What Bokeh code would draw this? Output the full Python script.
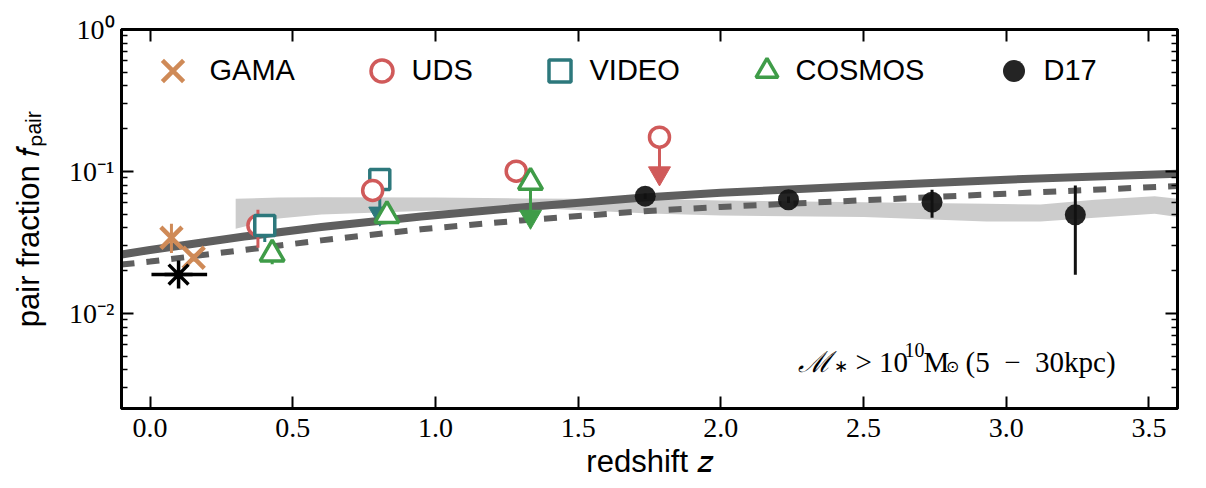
from bokeh.embed import file_html
from bokeh.models import (CustomJSTickFormatter, FixedTicker, Label, Legend,
                          LegendItem, LinearAxis, LogAxis, PrintfTickFormatter,
                          Range1d)
from bokeh.plotting import figure
from bokeh.resources import INLINE

# ---------------------------------------------------------------- data ----
# GAMA close pairs
gama_z = [0.075, 0.153]
gama_f = [0.0341, 0.0247]
gama_f_lo = [0.0266, 0.0232]
gama_f_hi = [0.0428, 0.0263]

# local reference point (redshift bin shown as a horizontal bar)
local_z = [0.10]
local_f = [0.0188]
local_z_lo = [0.005]
local_z_hi = [0.200]

# UDS detections and upper limit
uds_z = [0.378, 0.780, 1.283]
uds_f = [0.0417, 0.0735, 0.1005]
uds_f_lo = [0.0290, 0.0700, 0.0960]
uds_f_hi = [0.0537, 0.0770, 0.1050]
uds_lim_z = [1.785]
uds_lim_f = [0.1744]
uds_lim_head = [0.0972]

# VIDEO detections and upper limit
video_z = [0.402]
video_f = [0.0417]
video_f_lo = [0.0318]
video_f_hi = [0.0500]
video_lim_z = [0.805]
video_lim_f = [0.0879]
video_lim_head = [0.0506]

# COSMOS detections and upper limit
cosmos_z = [0.428, 0.830]
cosmos_f = [0.0262, 0.0490]
cosmos_f_lo = [0.0222, 0.0460]
cosmos_f_hi = [0.0300, 0.0520]
cosmos_lim_z = [1.333]
cosmos_lim_f = [0.0840]
cosmos_lim_head = [0.0481]

# D17
d17_z = [1.735, 2.237, 2.740, 3.242]
d17_f = [0.0670, 0.0632, 0.0608, 0.0495]
d17_f_lo = [0.0640, 0.0600, 0.0472, 0.0187]
d17_f_hi = [0.0700, 0.0665, 0.0743, 0.0797]

# model curves
model_z = [-0.10, 0.00, 0.33, 0.60, 0.95, 1.30, 1.73, 2.00, 2.50, 3.00, 3.60]
model_solid = [0.0260, 0.0280, 0.0348, 0.0406, 0.0481, 0.0558, 0.0656,
               0.0708, 0.0791, 0.0875, 0.0964]
model_dashed = [0.0221, 0.0232, 0.0280, 0.0327, 0.0392, 0.0452, 0.0525,
                0.0563, 0.0627, 0.0697, 0.0790]

# simulation range (shaded band)
band_z = [0.30, 0.45, 0.60, 1.00, 1.30, 1.75, 2.00, 2.50, 2.93, 3.12, 3.31, 3.52, 3.60]
band_hi = [0.0642, 0.0656, 0.0659, 0.0656, 0.0645, 0.0640, 0.0625, 0.0608,
           0.0592, 0.0586, 0.0632, 0.0670, 0.0642]
band_lo = [0.0395, 0.0467, 0.0498, 0.0531, 0.0557, 0.0506, 0.0490, 0.0477,
           0.0445, 0.0445, 0.0472, 0.0503, 0.0477]

# axes
x_ticks = [0.0, 0.5, 1.0, 1.5, 2.0, 2.5, 3.0, 3.5]
y_ticks = [0.01, 0.1, 1.0]
y_minor = [m * 10.0 ** e for e in (-3, -2, -1) for m in range(2, 10)]

# ---------------------------------------------------------------- style ----
C_GAMA = "#cf8a57"
C_UDS = "#d05a5a"
C_VIDEO = "#2d787c"
C_COSMOS = "#3f9c48"
C_D17 = "#111111"
C_MODEL = "#5f5f5f"
C_BAND = "#cccccc"

SANS = "Liberation Sans"
SERIF = "Liberation Serif"

FIG_W, FIG_H = 1206, 488
FRAME_L, FRAME_R, FRAME_T, FRAME_B = 121, 1177, 29, 408

p = figure(width=FIG_W, height=FIG_H,
           x_range=Range1d(-0.1, 3.6), y_range=Range1d(0.00214, 1.0),
           y_axis_type="log", output_backend="svg", toolbar_location=None,
           min_border_left=FRAME_L, min_border_right=FIG_W - FRAME_R,
           min_border_top=FRAME_T, min_border_bottom=FIG_H - FRAME_B)
p.xgrid.visible = False
p.ygrid.visible = False
p.outline_line_color = "black"
p.outline_line_width = 3
p.background_fill_color = "white"
p.border_fill_color = "white"


def style_axis(ax):
    ax.axis_line_color = "black"
    ax.axis_line_width = 3
    ax.major_tick_in = 12
    ax.major_tick_out = 0
    ax.minor_tick_in = 6
    ax.minor_tick_out = 0
    ax.major_tick_line_width = 2
    ax.minor_tick_line_width = 1.5
    ax.major_label_text_font = SERIF
    ax.major_label_text_font_size = "28px"
    ax.major_label_text_color = "black"
    ax.axis_label_text_font = SANS
    ax.axis_label_text_font_style = "normal"
    ax.axis_label_text_font_size = "31px"
    ax.axis_label_text_color = "black"


blank = CustomJSTickFormatter(code="return '';")
pow10 = CustomJSTickFormatter(code="""
const sup = {"-": "\u207b", "0": "\u2070", "1": "\u00b9", "2": "\u00b2", "3": "\u00b3"};
const e = Math.round(Math.log10(tick));
return "10" + String(e).split("").map((c) => sup[c]).join("");
""")

xa = p.xaxis[0]
style_axis(xa)
xa.ticker = FixedTicker(ticks=x_ticks, minor_ticks=[])
xa.formatter = PrintfTickFormatter(format="%.1f")
xa.major_label_standoff = 10
xa.axis_label = "redshift \U0001D467"
xa.axis_label_standoff = 4

ya = p.yaxis[0]
style_axis(ya)
ya.ticker = FixedTicker(ticks=y_ticks, minor_ticks=y_minor)
ya.formatter = pow10
ya.major_label_standoff = 7
ya.axis_label = "pair fraction \U0001D453\u209a\u2090\u1d62\u1d63"
ya.axis_label_standoff = 20

top = LinearAxis(ticker=FixedTicker(ticks=x_ticks, minor_ticks=[]), formatter=blank)
style_axis(top)
top.major_label_standoff = 0
top.major_label_text_font_size = "1px"
p.add_layout(top, "above")

right = LogAxis(ticker=FixedTicker(ticks=y_ticks, minor_ticks=y_minor), formatter=blank)
style_axis(right)
right.major_label_standoff = 0
right.major_label_text_font_size = "1px"
p.add_layout(right, "right")

# ---------------------------------------------------------------- marks ----
p.varea(x=band_z, y1=band_lo, y2=band_hi, fill_color=C_BAND)
p.line(model_z, model_dashed, line_color=C_MODEL, line_width=6, line_dash="13 12")
p.line(model_z, model_solid, line_color=C_MODEL, line_width=8)

ERR_W = 3
MK_W = 3.5


def vbars(z, lo, hi, color):
    p.segment(x0=z, y0=lo, x1=z, y1=hi, line_color=color, line_width=ERR_W)


def limit_arrows(z, f, head, color):
    p.segment(x0=z, y0=f, x1=z, y1=head, line_color=color, line_width=ERR_W)
    p.scatter(z, head, marker="inverted_triangle", size=22,
              fill_color=color, line_color=color, line_width=1)


# VIDEO upper limit
limit_arrows(video_lim_z, video_lim_f, video_lim_head, C_VIDEO)
p.scatter(video_lim_z, video_lim_f, marker="square", size=20,
          fill_color="white", line_color=C_VIDEO, line_width=MK_W)

# UDS
vbars(uds_z, uds_f_lo, uds_f_hi, C_UDS)
uds_r = p.scatter(uds_z, uds_f, marker="circle", size=20,
                  fill_color="white", line_color=C_UDS, line_width=MK_W)
limit_arrows(uds_lim_z, uds_lim_f, uds_lim_head, C_UDS)
p.scatter(uds_lim_z, uds_lim_f, marker="circle", size=20,
          fill_color="white", line_color=C_UDS, line_width=MK_W)

# VIDEO detections
vbars(video_z, video_f_lo, video_f_hi, C_VIDEO)
video_r = p.scatter(video_z, video_f, marker="square", size=20,
                    fill_color="white", line_color=C_VIDEO, line_width=MK_W)

# COSMOS
vbars(cosmos_z, cosmos_f_lo, cosmos_f_hi, C_COSMOS)
cosmos_r = p.scatter(cosmos_z, cosmos_f, marker="triangle", size=24,
                     fill_color="white", line_color=C_COSMOS, line_width=MK_W)
limit_arrows(cosmos_lim_z, cosmos_lim_f, cosmos_lim_head, C_COSMOS)
p.scatter(cosmos_lim_z, cosmos_lim_f, marker="triangle", size=24,
          fill_color="white", line_color=C_COSMOS, line_width=MK_W)

# GAMA
vbars(gama_z, gama_f_lo, gama_f_hi, C_GAMA)
gama_r = p.scatter(gama_z, gama_f, marker="x", size=30,
                   line_color=C_GAMA, line_width=4.5)

# local point with its redshift extent
p.segment(x0=local_z_lo, y0=local_f, x1=local_z_hi, y1=local_f,
          line_color="black", line_width=3.5)
p.scatter(local_z, local_f, marker="asterisk", size=28,
          line_color="black", line_width=3.5)

# D17
vbars(d17_z, d17_f_lo, d17_f_hi, C_D17)
d17_r = p.scatter(d17_z, d17_f, marker="circle", size=21,
                  fill_color=C_D17, fill_alpha=0.92, line_color=None)

# legend: one single-entry legend per sample, laid out in a row
LEG_Y = 70  # vertical centre of the legend row (canvas px)
legend_row = [("GAMA", gama_r, 172, 75, 0),
              ("UDS", uds_r, 381, 55, 3),
              ("VIDEO", video_r, 559, 55, 3),
              ("COSMOS", cosmos_r, 766, 55, 2),
              ("D17", d17_r, 1013, 55, 3)]
for name, rend, cx, box, standoff in legend_row:
    p.add_layout(Legend(
        items=[LegendItem(label=name, renderers=[rend])],
        orientation="horizontal",
        location=(cx - box / 2 - FRAME_L, FRAME_B - (LEG_Y + box / 2)),
        glyph_width=box, glyph_height=box, label_standoff=standoff,
        padding=0, margin=0, spacing=0,
        label_text_font=SANS, label_text_font_size="29px",
        label_text_color="black",
        border_line_color=None, background_fill_alpha=0))

# ---------------------------------------------------------------- texts ----


def text_at(cx, cy, txt, size, font, style="normal"):
    """Place text with its left baseline at canvas pixel (cx, cy)."""
    p.add_layout(Label(x=cx - FRAME_L, y=FRAME_B - cy,
                       x_units="screen", y_units="screen", text=txt,
                       text_font=font, text_font_size=f"{size}px",
                       text_font_style=style, text_color="black",
                       text_align="left", text_baseline="alphabetic"))


# sample selection note
text_at(797, 361, "\u2133", 29, SERIF, "italic")
text_at(833, 366, "\u2217", 17, SERIF)
text_at(855, 361, "> 10", 29, SERIF)
text_at(904, 349, "10", 20, SERIF)
text_at(923, 361, "M", 29, SERIF)
text_at(945, 366, "\u2299", 16, SERIF)
text_at(965, 361, "(5\u2002\u2212\u200230kpc)", 29, SERIF)

with open("out.html", "w", encoding="utf-8") as fh:
    fh.write(file_html(p, INLINE, title="pair fraction"))
